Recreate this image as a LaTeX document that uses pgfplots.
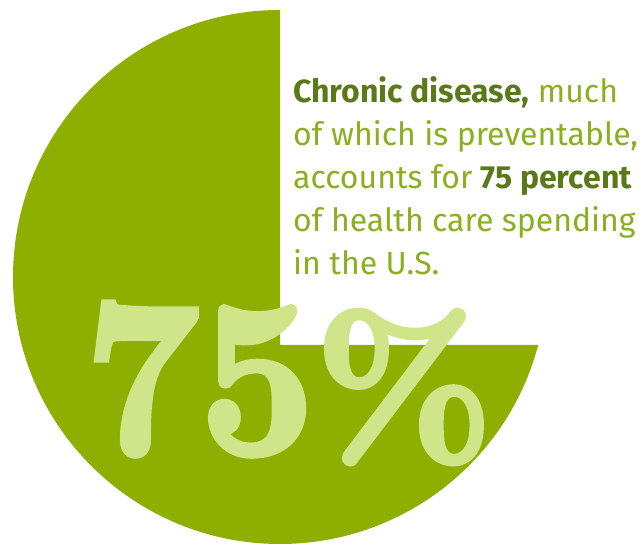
\documentclass[border=0pt]{standalone}
\usepackage{pgfplots}
\pgfplotsset{compat=1.18}
\usepackage{fontspec}
\newfontfamily\txtfont{Fira Sans}
\newfontfamily\bigfont{lmroman10-bold.otf}[FakeBold=3]
\definecolor{pie}{HTML}{8EAF00}
\definecolor{pielight}{HTML}{D0E48A}
\definecolor{txtgreen}{HTML}{8AB020}
\definecolor{txtdark}{HTML}{5A7A1A}
\begin{document}
\begin{tikzpicture}
\begin{axis}[x=1pt, y=1pt, xmin=0, xmax=642, ymin=0, ymax=545,
  hide axis, clip=false]
  \coordinate (SW) at (axis cs:0,0);
  \coordinate (NE) at (axis cs:642,545);
  \fill[white] (axis cs:0,0) rectangle (axis cs:642,545);
  % pie: 75% slice, centre (280,268), radius 267, quarter cut with corner at (280,200)
  \fill[pie] (axis cs:280,535) arc[start angle=90, end angle=345.25, radius=267pt]
     -- (axis cs:280,200) -- cycle;
  \node[anchor=base west, inner sep=0pt, text=pielight] at (axis cs:84,92)
    {\scalebox{0.92}[1.02]{\bigfont\fontsize{218pt}{218pt}\selectfont 75}%
     \scalebox{0.98}[1]{\bigfont\fontsize{190pt}{190pt}\selectfont\%}};
  \begin{scope}[every node/.style={anchor=base west, inner sep=0pt, text=txtgreen,
      font=\txtfont\fontsize{32pt}{32pt}\selectfont}]
    \node at (axis cs:293,442) {{\color{txtdark}\bfseries Chronic disease,} much};
    \node at (axis cs:293,399) {of which is preventable,};
    \node at (axis cs:293,356) {accounts for {\color{txtdark}\bfseries 75 percent}};
    \node at (axis cs:293,313) {of health care spending};
    \node at (axis cs:293,270) {in the U.S.};
  \end{scope}
\end{axis}
\pgfresetboundingbox
\useasboundingbox (SW) rectangle (NE);
\end{tikzpicture}
\end{document}
